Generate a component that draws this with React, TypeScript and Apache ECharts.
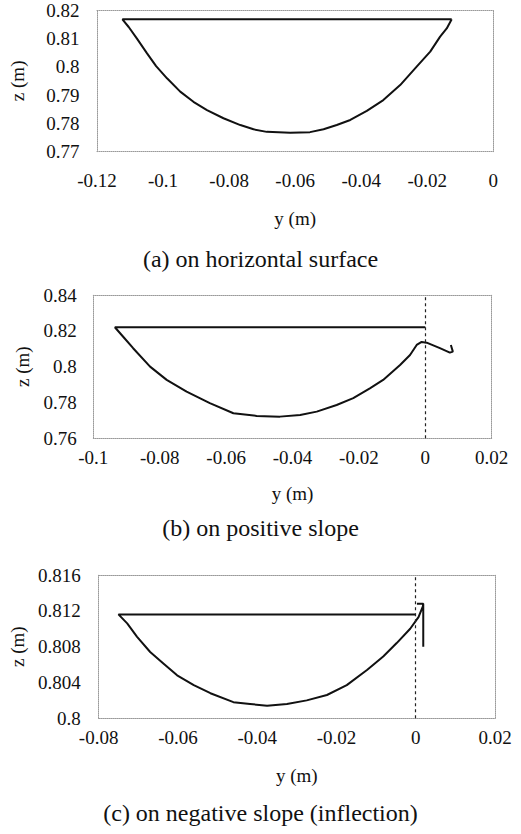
import React, { useEffect, useRef } from "react";
import * as echarts from "echarts";

// Panel (a): on horizontal surface
const aY = [-0.0126, -0.1123, -0.1104, -0.1079, -0.1049, -0.1021, -0.0988, -0.0948, -0.0908, -0.0867, -0.0817, -0.0766, -0.0726, -0.0686, -0.0615, -0.0555, -0.0514, -0.0474, -0.0433, -0.0383, -0.0333, -0.0282, -0.0232, -0.0191, -0.0161, -0.0141, -0.0126];
const aZ = [0.8167, 0.8167, 0.814, 0.8099, 0.8048, 0.8002, 0.7959, 0.7912, 0.7876, 0.7847, 0.7818, 0.7794, 0.7779, 0.777, 0.7767, 0.7769, 0.7779, 0.7794, 0.7812, 0.7844, 0.7882, 0.7935, 0.8, 0.8053, 0.8106, 0.8135, 0.8167];

// Panel (b): on positive slope
const bY = [0.0, -0.0935, -0.091, -0.088, -0.0829, -0.0779, -0.0719, -0.0649, -0.0578, -0.0508, -0.0438, -0.0377, -0.0327, -0.0267, -0.0217, -0.0167, -0.0127, -0.0076, -0.0046, -0.0026, -0.0011, 0.0004, 0.0044, 0.0074, 0.0083, 0.0077];
const bZ = [0.822, 0.822, 0.8167, 0.8103, 0.8, 0.7926, 0.786, 0.7796, 0.774, 0.7725, 0.7721, 0.773, 0.7749, 0.7786, 0.7824, 0.7879, 0.7926, 0.8009, 0.8065, 0.8121, 0.8138, 0.8134, 0.8103, 0.8078, 0.8084, 0.8121];

// Panel (c): on negative slope (inflection)
const cY = [0.0, -0.075, -0.0728, -0.0703, -0.067, -0.0636, -0.0602, -0.056, -0.0518, -0.046, -0.0418, -0.0375, -0.0325, -0.0275, -0.0224, -0.0174, -0.0123, -0.0082, -0.0048, -0.0014, 0.0007, 0.0018, 0.0019, 0.0003, 0.0019, 0.0019];
const cZ = [0.8116, 0.8116, 0.8106, 0.8091, 0.8074, 0.8061, 0.8048, 0.8037, 0.8028, 0.8018, 0.8016, 0.8014, 0.8016, 0.802, 0.8026, 0.8037, 0.8054, 0.8069, 0.8084, 0.81, 0.8113, 0.8125, 0.8128, 0.8128, 0.8128, 0.808];

// Axis ranges
const xRanges = [
  { min: -0.12, max: 0, interval: 0.02 },
  { min: -0.1, max: 0.02, interval: 0.02 },
  { min: -0.08, max: 0.02, interval: 0.02 },
];
const zRanges = [
  { min: 0.77, max: 0.82, interval: 0.01 },
  { min: 0.76, max: 0.84, interval: 0.02 },
  { min: 0.8, max: 0.816, interval: 0.004 },
];
const captions = [
  "(a) on horizontal surface",
  "(b) on positive slope",
  "(c) on negative slope (inflection)",
];
const xName = "y (m)";
const yName = "z (m)";
const zeroLinePanels = [false, true, true];

const FONT = "Liberation Serif";
const INK = "#111111";
const FRAME = "#9a9a9a";

const gridBoxes = [
  { left: 96.7, top: 10, width: 396.6, height: 141.7 },
  { left: 93.3, top: 295, width: 398.4, height: 143.3 },
  { left: 98.3, top: 575, width: 396.7, height: 143.3 },
];
const xLabelMargin = [19, 9.5, 9.5];
const yLabelMargin = [17.5, 16.5, 18];
const xNameGap = [57, 46, 47.5];
const yNameGap = [70, 61, 65];
const captionTop = [247, 516, 801];

const fmt = (v: number) => String(parseFloat(Number(v).toFixed(6)));

export default function App() {
  const ref = useRef<HTMLDivElement>(null);
  useEffect(() => {
    if (!ref.current) return;
    const chart = echarts.init(ref.current, undefined, { renderer: "svg" });
    const panels = [
      [aY, aZ],
      [bY, bZ],
      [cY, cZ],
    ];
    const frameLine = { show: true, onZero: false, lineStyle: { color: FRAME, width: 1, type: "dotted" as const } };
    const xAxes: any[] = [];
    const yAxes: any[] = [];
    for (let i = 0; i < 3; i++) {
      xAxes.push({
        type: "value",
        gridIndex: i,
        position: "bottom",
        ...xRanges[i],
        name: xName,
        nameLocation: "middle",
        nameGap: xNameGap[i],
        nameTextStyle: { fontFamily: FONT, fontSize: 19, color: INK },
        axisLine: frameLine,
        axisTick: { show: false },
        splitLine: { show: false },
        axisLabel: { fontFamily: FONT, fontSize: 19, color: INK, margin: xLabelMargin[i], formatter: fmt, showMinLabel: true, showMaxLabel: true },
      });
      yAxes.push({
        type: "value",
        gridIndex: i,
        position: "left",
        ...zRanges[i],
        name: yName,
        nameLocation: "middle",
        nameGap: yNameGap[i],
        nameTextStyle: { fontFamily: FONT, fontSize: 19, color: INK },
        axisLine: frameLine,
        axisTick: { show: false },
        splitLine: { show: false },
        axisLabel: { fontFamily: FONT, fontSize: 19, color: INK, margin: yLabelMargin[i], formatter: fmt, showMinLabel: true, showMaxLabel: true },
      });
    }
    for (let i = 0; i < 3; i++) {
      xAxes.push({
        type: "value",
        gridIndex: i,
        position: "top",
        ...xRanges[i],
        axisLine: frameLine,
        axisTick: { show: false },
        splitLine: { show: false },
        axisLabel: { show: false },
      });
      yAxes.push({
        type: "value",
        gridIndex: i,
        position: "right",
        ...zRanges[i],
        axisLine: frameLine,
        axisTick: { show: false },
        splitLine: { show: false },
        axisLabel: { show: false },
      });
    }
    const series: any[] = panels.map(([ys, zs], i) => ({
      type: "line",
      xAxisIndex: i,
      yAxisIndex: i,
      data: ys.map((y, k) => [y, zs[k]]),
      showSymbol: false,
      symbol: "none",
      lineStyle: { color: INK, width: 2 },
      z: 3,
      markLine: zeroLinePanels[i]
        ? {
            silent: true,
            symbol: "none",
            label: { show: false },
            lineStyle: { color: "#222", width: 1.2, type: [3, 3] },
            data: [{ xAxis: 0 }],
          }
        : undefined,
    }));
    chart.setOption({
      animation: false,
      backgroundColor: "#ffffff",
      title: captions.map((t, i) => ({
        text: t,
        left: "center",
        top: captionTop[i],
        padding: 0,
        textStyle: { fontFamily: FONT, fontSize: 24, fontWeight: "normal", color: INK },
      })),
      grid: gridBoxes.map((g) => ({ ...g, containLabel: false })),
      xAxis: xAxes,
      yAxis: yAxes,
      series,
    });
    return () => chart.dispose();
  }, []);
  return (
    <div
      ref={ref}
      style={{ position: "absolute", left: 0, top: 0, width: 521, height: 834, background: "#fff" }}
    />
  );
}
